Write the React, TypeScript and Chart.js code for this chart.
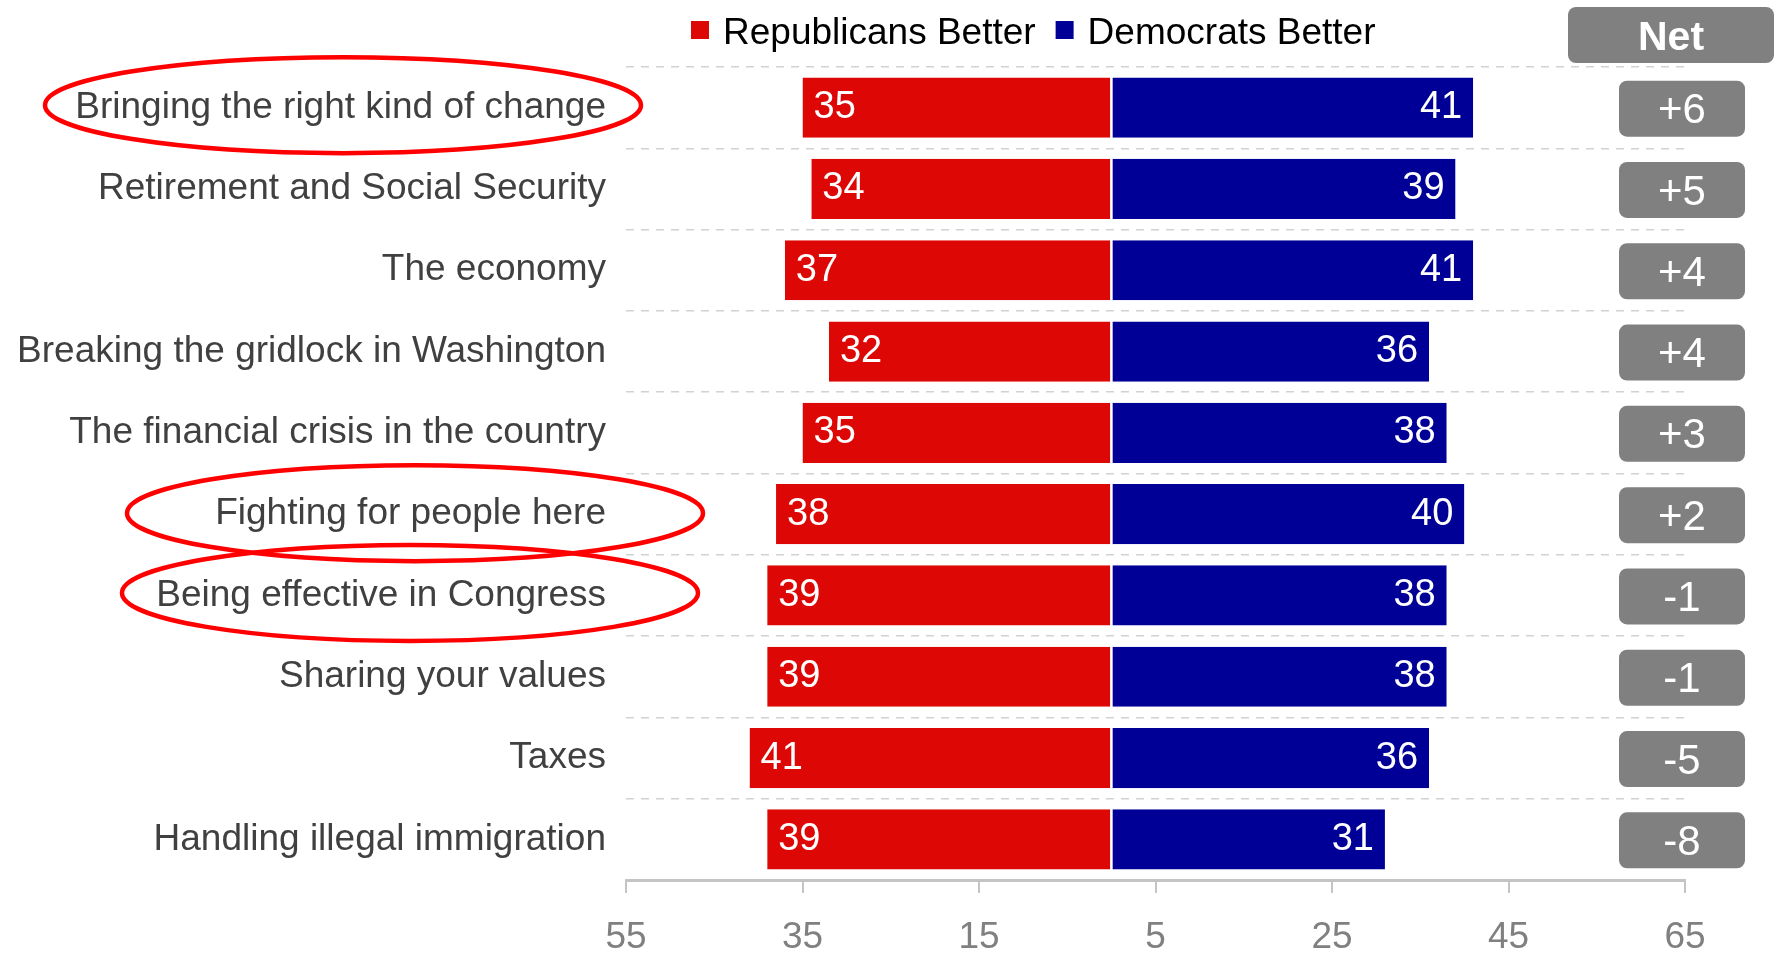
import React, { useEffect, useRef } from "react";
import { Chart, registerables } from "chart.js";

Chart.register(...registerables);

// ---------------- data ----------------
const categories = [
  "Bringing the right kind of change",
  "Retirement and Social Security",
  "The economy",
  "Breaking the gridlock in Washington",
  "The financial crisis in the country",
  "Fighting for people here",
  "Being effective in Congress",
  "Sharing your values",
  "Taxes",
  "Handling illegal immigration",
];
const republicansBetter = [35, 34, 37, 32, 35, 38, 39, 39, 41, 39];
const democratsBetter = [41, 39, 41, 36, 38, 40, 38, 38, 36, 31];
const netLabels = ["+6", "+5", "+4", "+4", "+3", "+2", "-1", "-1", "-5", "-8"];
const xTickValues = [-55, -35, -15, 5, 25, 45, 65];
const seriesNames = ["Republicans Better", "Democrats Better"];
const netTitle = "Net";
const highlightedCategories = [
  "Bringing the right kind of change",
  "Fighting for people here",
  "Being effective in Congress",
];

// ---------------- styles ----------------
const FONT = "'Liberation Sans', Arial, Helvetica, sans-serif";
const RED = "#DD0806";
const BLUE = "#000096";
const BOX_GRAY = "#808080";

// ellipse geometry for highlighted labels (annotation styling)
const ellipseStyle: Record<string, { cx: number; dy: number; rx: number; ry: number }> = {
  "Bringing the right kind of change": { cx: 343, dy: -2.5, rx: 298, ry: 48 },
  "Fighting for people here": { cx: 415, dy: -1, rx: 288, ry: 48 },
  "Being effective in Congress": { cx: 410, dy: -2.5, rx: 288, ry: 48 },
};

const overlayPlugin = {
  id: "overlay",
  afterDatasetsDraw(chart: any) {
    const ctx = chart.ctx as CanvasRenderingContext2D;
    ctx.save();
    ctx.font = `38px ${FONT}`;
    ctx.fillStyle = "#ffffff";
    ctx.textBaseline = "middle";
    chart.data.datasets.forEach((ds: any, di: number) => {
      const meta = chart.getDatasetMeta(di);
      meta.data.forEach((bar: any, i: number) => {
        const { x, y, base } = bar.getProps(["x", "y", "base"], true);
        const val = Math.abs(ds.data[i]);
        if (x < base) {
          ctx.textAlign = "left";
          ctx.fillText(String(val), x + 11, y);
        } else {
          ctx.textAlign = "right";
          ctx.fillText(String(val), x - 11, y);
        }
      });
    });
    ctx.restore();
  },
  afterDraw(chart: any) {
    const ctx = chart.ctx as CanvasRenderingContext2D;
    const yScale = chart.scales.y;
    const area = chart.chartArea;

    // legend
    ctx.save();
    ctx.font = `37px ${FONT}`;
    ctx.textBaseline = "middle";
    ctx.textAlign = "left";
    let lx = 691;
    const ly = 30;
    chart.data.datasets.forEach((ds: any) => {
      ctx.fillStyle = ds.backgroundColor;
      ctx.fillRect(lx, ly - 9, 18, 18);
      lx += 32;
      ctx.fillStyle = "#000000";
      ctx.fillText(ds.label, lx, ly + 4);
      lx += ctx.measureText(ds.label).width + 20;
    });
    ctx.restore();

    // Net header
    ctx.save();
    const hRight = chart.width - 3;
    const hLeft = hRight - 206;
    ctx.fillStyle = BOX_GRAY;
    ctx.beginPath();
    ctx.roundRect(hLeft, 7, 206, 56, 8);
    ctx.fill();
    ctx.fillStyle = "#ffffff";
    ctx.font = `bold 41px ${FONT}`;
    ctx.textAlign = "center";
    ctx.textBaseline = "middle";
    ctx.fillText(netTitle, (hLeft + hRight) / 2, 39);
    ctx.restore();

    // Net boxes
    ctx.save();
    const cx = area.right - 3;
    netLabels.forEach((lab, i) => {
      const y = yScale.getPixelForValue(i);
      ctx.fillStyle = BOX_GRAY;
      ctx.beginPath();
      ctx.roundRect(cx - 63, y - 27, 126, 56, 8);
      ctx.fill();
      ctx.fillStyle = "#ffffff";
      ctx.font = `42px ${FONT}`;
      ctx.textAlign = "center";
      ctx.textBaseline = "middle";
      ctx.fillText(lab, cx, y + 4);
    });
    ctx.restore();

    // ellipses around highlighted labels
    ctx.save();
    ctx.strokeStyle = "#FF0000";
    ctx.lineWidth = 4.5;
    highlightedCategories.forEach((cat) => {
      const idx = categories.indexOf(cat);
      const g = ellipseStyle[cat];
      if (idx < 0 || !g) return;
      const y = yScale.getPixelForValue(idx) + g.dy;
      ctx.beginPath();
      ctx.ellipse(g.cx, y, g.rx, g.ry, 0, 0, Math.PI * 2);
      ctx.stroke();
    });
    ctx.restore();
  },
};

export default function App() {
  const canvasRef = useRef<HTMLCanvasElement | null>(null);

  useEffect(() => {
    const canvas = canvasRef.current;
    if (!canvas) return;
    const chart = new Chart(canvas, {
      type: "bar",
      data: {
        labels: categories,
        datasets: [
          {
            label: seriesNames[0],
            data: republicansBetter.map((v) => -v),
            backgroundColor: RED,
            borderColor: "#ffffff",
            borderWidth: { top: 0, bottom: 0, left: 0, right: 1.3 } as any,
            borderSkipped: false,
            barPercentage: 0.74,
            categoryPercentage: 1,
          },
          {
            label: seriesNames[1],
            data: democratsBetter,
            backgroundColor: BLUE,
            borderColor: "#ffffff",
            borderWidth: { top: 0, bottom: 0, left: 1.3, right: 0 } as any,
            borderSkipped: false,
            barPercentage: 0.74,
            categoryPercentage: 1,
          },
        ],
      },
      options: {
        indexAxis: "y",
        responsive: false,
        animation: false,
        layout: { padding: { top: 67, right: 92, bottom: 0, left: 0 } },
        plugins: {
          legend: { display: false },
          tooltip: { enabled: false },
        },
        scales: {
          x: {
            stacked: true,
            min: -55,
            max: 65,
            afterBuildTicks: (scale: any) => {
              scale.ticks = xTickValues.map((v) => ({ value: v }));
            },
            afterFit: (scale: any) => {
              scale.height = 74;
            },
            grid: {
              display: true,
              drawOnChartArea: false,
              drawTicks: true,
              tickLength: 13,
              color: "#c4c4c4",
              lineWidth: 2,
            },
            border: { display: true, color: "#c4c4c4", width: 3 },
            ticks: {
              autoSkip: false,
              maxRotation: 0,
              padding: 23,
              color: "#808080",
              font: { family: FONT, size: 37 },
              callback: (v: any) => String(Math.abs(Number(v))),
            },
          },
          y: {
            stacked: true,
            afterFit: (scale: any) => {
              scale.width = 626;
            },
            grid: {
              display: true,
              offset: true,
              drawTicks: false,
              color: "#d2d2d2",
              lineWidth: 1.5,
            },
            border: { display: false, dash: [8, 7] },
            ticks: {
              padding: 20,
              color: "#404040",
              font: { family: FONT, size: 37 },
            },
          },
        },
      },
      plugins: [overlayPlugin],
    });
    return () => chart.destroy();
  }, []);

  return (
    <div style={{ position: "absolute", left: 0, top: 0, width: 1777, height: 954, background: "#ffffff" }}>
      <canvas ref={canvasRef} width={1777} height={954} style={{ display: "block" }} />
    </div>
  );
}
